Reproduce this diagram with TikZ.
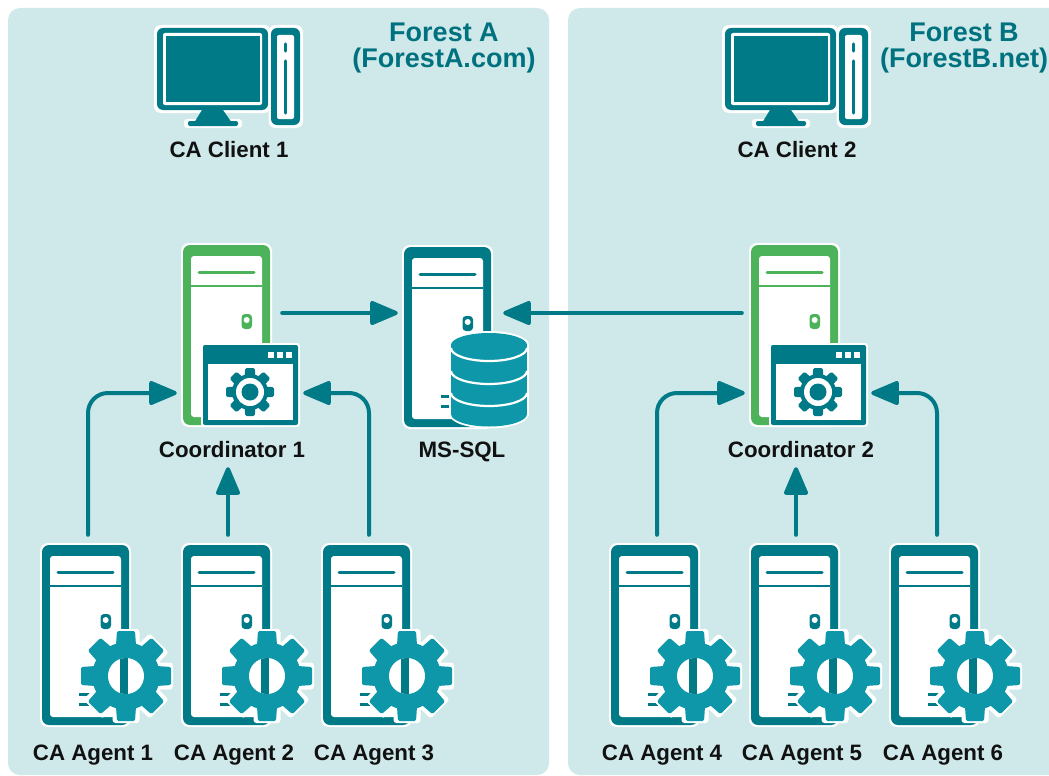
\documentclass[tikz,border=0pt]{standalone}
\usepackage{fontspec}
\setmainfont{Liberation Sans}
\usetikzlibrary{arrows.meta}
\definecolor{panelc}{HTML}{CFE8E9}
\definecolor{tealc}{HTML}{007A87}
\definecolor{titlec}{HTML}{00727F}
\definecolor{gearc}{HTML}{0E97A8}
\definecolor{greenc}{HTML}{4DB35A}
\definecolor{labelc}{HTML}{111111}
\tikzset{
  panel/.style={fill=panelc,draw=none,rounded corners=12},
  lbl/.style={font=\bfseries\fontsize{22.3}{22.3}\selectfont,text=labelc,inner sep=0pt,anchor=base},
  title/.style={font=\bfseries\fontsize{27}{26}\selectfont,text=titlec,align=center,inner sep=0pt},
  link/.style={draw=tealc,line width=4,line cap=round,-{Triangle[length=31,width=25,round]}},
  anchorpt/.style={inner sep=0pt,minimum size=0pt},
  pics/server/.style={code={
    \fill[white,rounded corners=8] (-2,-2) rectangle (89,182);
    \fill[#1,rounded corners=7] (0,0) rectangle (87,180);
    \fill[white,rounded corners=3] (8,11) rectangle (79,172);
    \fill[#1] (8,39.5) rectangle (79,42);
    \draw[#1,line width=3,line cap=round] (16,27) -- (71,27);
    \fill[#1,rounded corners=3.5] (58.5,69) rectangle (69,84);
    \fill[white] (63.7,75) circle (3);
    \fill[#1] (37,147.5) rectangle (50,150.5);
    \fill[#1] (37,157.5) rectangle (47,160.5);
  }},
  pics/client/.style={code={
    \fill[white,rounded corners=7] (-3,-3) rectangle (114,85);
    \fill[white,rounded corners=3] (27,91) rectangle (85,100);
    \fill[tealc,rounded corners=6] (0,0) rectangle (111,82);
    \fill[white,rounded corners=2] (6,5) rectangle (105,77);
    \fill[tealc] (9,8) rectangle (103,74);
    \fill[tealc] (45,82) -- (66,82) -- (75,95) -- (37,95) -- cycle;
    \fill[tealc,rounded corners=2] (31,93) rectangle (81,98);
    \fill[white,rounded corners=7] (111.5,-3) rectangle (146,100);
    \fill[tealc,rounded corners=6] (114,0) rectangle (143,97);
    \fill[white,rounded corners=2] (120,7) rectangle (137,91);
    \draw[tealc,line width=3.2,line cap=round] (128.5,16) -- (128.5,23);
    \draw[tealc,line width=3.2,line cap=round] (128.5,33) -- (128.5,85);
  }},
}
\newcommand{\gearpath}[4]{% cx cy outer colour
  \foreach \k in {0,...,7}{
    \pgfmathsetmacro{\ang}{\k*45}
    \fill[#4,rotate around={\ang:(#1,#2)},rounded corners=1.5] (#1-#3*0.27,#2) -- (#1-#3*0.20,#2-#3) -- (#1+#3*0.20,#2-#3) -- (#1+#3*0.27,#2) -- cycle;
  }
  \fill[#4] (#1,#2) circle ({#3*0.75});
}
\newcommand{\agentgear}[2]{%
  \foreach \k in {0,...,7}{
    \pgfmathsetmacro{\ang}{\k*45}
    \fill[white,rotate around={\ang:(#1,#2)},rounded corners=3] (#1-13.5,#2) rectangle (#1+13.5,#2-47);
  }
  \fill[white] (#1,#2) circle (36.5);
  \gearpath{#1}{#2}{45}{gearc}
  \fill[white] (#1,#2) circle (18);
  \begin{scope}
    \clip (#1,#2) circle (18);
    \fill[tealc] (#1-6,#2-20) rectangle (#1+2,#2+20);
  \end{scope}
}
\newcommand{\coordwin}[2]{% x y
  \fill[white,rounded corners=3] (#1-2,#2-2) rectangle (#1+97,#2+82);
  \fill[tealc,rounded corners=2] (#1,#2) rectangle (#1+95,#2+80);
  \fill[white] (#1+5,#2+19) rectangle (#1+90,#2+75);
  \fill[white] (#1+65,#2+6.5) rectangle ++(6,6);
  \fill[white] (#1+74,#2+6.5) rectangle ++(6,6);
  \fill[white] (#1+83,#2+6.5) rectangle ++(6,6);
  \gearpath{#1+47}{#2+47}{24}{tealc}
  \fill[white] (#1+47,#2+47) circle (14);
  \fill[tealc] (#1+47,#2+47) circle (8.5);
}
\begin{document}
\begin{tikzpicture}[x=1pt,y=-1pt]
\useasboundingbox (0,0) rectangle (1049,776);
\fill[white] (0,0) rectangle (1049,776);
\fill[panel] (8,8) rectangle (549,775);
\fill[panel] (568,8) rectangle (1070,775);

% clients
\pic at (157,28) {client};
\pic at (725,28) {client};
\node[lbl] (client1) at (229,157) {CA Client 1};
\node[lbl] (client2) at (797,157) {CA Client 2};

% titles
\node[title] (foresta) at (444,48) {Forest A\\(ForestA.com)};
\node[title] (forestb) at (964,48) {Forest B\\(ForestB.net)};

% coordinators
\pic at (183,245) {server=greenc};
\coordwin{203}{345}
\pic at (751,245) {server=greenc};
\coordwin{771}{345}
\node[lbl] (coord1) at (232,457) {Coordinator 1};
\node[lbl] (coord2) at (801,457) {Coordinator 2};

% MS-SQL
\pic at (404,247) {server=tealc};
\fill[white] (489,345) ellipse[x radius=40,y radius=14];
\fill[white] (489,414) ellipse[x radius=40,y radius=14.5];
\fill[white] (449,345) rectangle (529,414);
\fill[gearc] (489,345) ellipse[x radius=38,y radius=12];
\fill[gearc] (489,414) ellipse[x radius=38,y radius=12.5];
\fill[gearc] (451,345) rectangle (527,414);
\draw[white,line width=2.2] (451,348) arc[start angle=180,end angle=0,x radius=38,y radius=13];
\draw[white,line width=2.2] (451,371) arc[start angle=180,end angle=0,x radius=38,y radius=13];
\draw[white,line width=2.2] (451,393) arc[start angle=180,end angle=0,x radius=38,y radius=13];
\node[lbl] (mssql) at (462,457) {MS-SQL};

% agents
\foreach \ax in {42,183,323,611,751,891}{
  \pic at (\ax,545) {server=tealc};
  \agentgear{\ax+84}{676}
}
\node[lbl] (agent1) at (93,760.5) {CA Agent 1};
\node[lbl] (agent2) at (234,760.5) {CA Agent 2};
\node[lbl] (agent3) at (374,760.5) {CA Agent 3};
\node[lbl] (agent4) at (662,760.5) {CA Agent 4};
\node[lbl] (agent5) at (802,760.5) {CA Agent 5};
\node[lbl] (agent6) at (943,760.5) {CA Agent 6};

% connector anchors
\node[anchorpt] (c1out) at (282,313) {};
\node[anchorpt] (sqlL) at (398,313) {};
\node[anchorpt] (c2out) at (742,313) {};
\node[anchorpt] (sqlR) at (503,313) {};
\node[anchorpt] (a1top) at (88,535) {};
\node[anchorpt] (a2top) at (228,535) {};
\node[anchorpt] (a3top) at (369,535) {};
\node[anchorpt] (a4top) at (657,535) {};
\node[anchorpt] (a5top) at (796,535) {};
\node[anchorpt] (a6top) at (937,535) {};
\node[anchorpt] (c1L) at (177,393) {};
\node[anchorpt] (c1B) at (228,467) {};
\node[anchorpt] (c1R) at (303,393) {};
\node[anchorpt] (c2L) at (745,393) {};
\node[anchorpt] (c2B) at (796,467) {};
\node[anchorpt] (c2R) at (871,393) {};

\draw[link] (c1out) -- (sqlL);
\draw[link] (c2out) -- (sqlR);
\draw[link,rounded corners=20] (a1top) |- (c1L);
\draw[link] (a2top) -- (c1B);
\draw[link,rounded corners=20] (a3top) |- (c1R);
\draw[link,rounded corners=20] (a4top) |- (c2L);
\draw[link] (a5top) -- (c2B);
\draw[link,rounded corners=20] (a6top) |- (c2R);
\end{tikzpicture}
\end{document}
